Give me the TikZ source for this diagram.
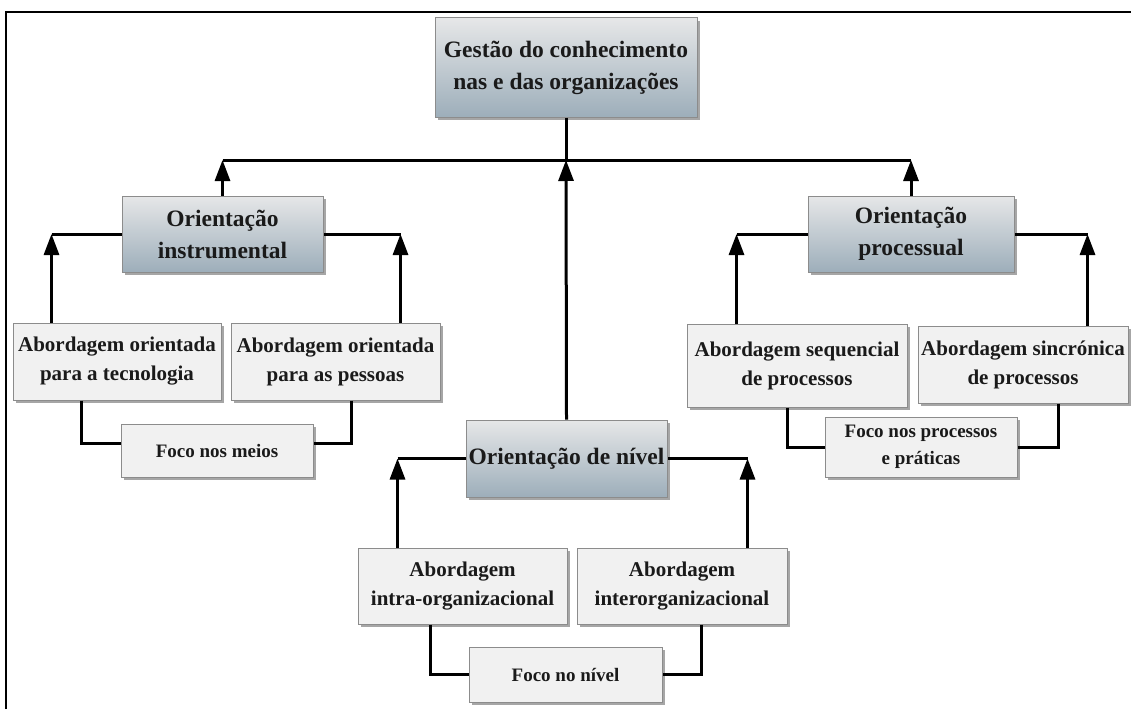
\documentclass[tikz,border=0pt]{standalone}
\usepackage{fontspec}
\setmainfont{Liberation Serif}
\usetikzlibrary{arrows.meta,shadows,calc}
\definecolor{gradtop}{HTML}{E6E7E8}
\definecolor{gradbot}{HTML}{9DAEBA}
\definecolor{lightbox}{HTML}{F1F1F1}
\definecolor{boxline}{HTML}{8C8C8C}
\definecolor{ink}{HTML}{1A1A1A}
\tikzset{
  boxbase/.style={draw=boxline, line width=1pt, align=center, inner sep=2pt,
    text=ink, font=\bfseries,
    drop shadow={shadow xshift=3pt, shadow yshift=-3pt, fill=black, opacity=0.35}},
  mainbox/.style={boxbase, top color=gradtop, bottom color=gradbot,
    font=\fontsize{23.5}{32}\selectfont\bfseries},
  subbox/.style={boxbase, fill=lightbox, font=\fontsize{21}{29}\selectfont\bfseries},
  focobox/.style={boxbase, fill=lightbox, font=\fontsize{19}{27}\selectfont\bfseries},
  link/.style={line width=3pt, black},
  uparrow/.style={link, -{Triangle[width=15pt,length=21pt]}}
}
\begin{document}
\begin{tikzpicture}[x=1pt,y=-1pt]
\useasboundingbox (0,0) rectangle (1131,709);
% partial frame
\draw[line width=2pt] (6,709) -- (6,12) -- (1131,12);

% top node
\node[mainbox, minimum width=262, minimum height=99] (top) at (566,67.5)
  {Gestão do conhecimento\\nas e das organizações};

% orientations
\node[mainbox, minimum width=201, minimum height=76] (oi) at (222.5,234) {Orientação\\instrumental};
\node[mainbox, minimum width=206, minimum height=76] (op) at (911,234) {Orientação\\processual};
\node[mainbox, minimum width=201, minimum height=77] (on) at (566.5,458.5) {Orientação de nível};

% approaches
\node[subbox, minimum width=208, minimum height=77] (a1) at (117,361.5) {Abordagem orientada\\para a tecnologia};
\node[subbox, minimum width=209, minimum height=77] (a2) at (335.5,361.5) {Abordagem orientada\\para as pessoas};
\node[subbox, minimum width=220, minimum height=83] (p1) at (797,365.5) {Abordagem sequencial\\de processos};
\node[subbox, minimum width=210, minimum height=77] (p2) at (1023,364.5) {Abordagem sincrónica\\de processos};
\node[subbox, minimum width=209, minimum height=76] (n1) at (462.5,586) {Abordagem\\intra-organizacional};
\node[subbox, minimum width=210, minimum height=76] (n2) at (682,586) {Abordagem\\interorganizacional};

% focus boxes
\node[focobox, minimum width=192, minimum height=53] (f1) at (217,450.5) {Foco nos meios};
\node[focobox, minimum width=192, minimum height=60] (f2) at (921,447) {Foco nos processos\\e práticas};
\node[focobox, minimum width=193, minimum height=55] (f3) at (565.5,674.5) {Foco no nível};

% top bar
\coordinate (hub) at (566,160);
\coordinate (barl) at (222.5,160);
\coordinate (barr) at (911,160);
\draw[link] (top.south) -- (hub);
\draw[link] (barl) -- (barr);
\draw[uparrow] (oi.north) -- (barl);
\draw[uparrow] (on.north) -- (hub);
\draw[uparrow] (op.north) -- (barr);

% instrumental branch
\coordinate (oil) at ([xshift=39pt]a1.north west |- oi.west);
\coordinate (oir) at ([xshift=-40pt]a2.north east |- oi.east);
\draw[uparrow] ([xshift=39pt]a1.north west) -- (oil);
\draw[uparrow] ([xshift=-40pt]a2.north east) -- (oir);
\draw[link] (oil) -- (oi.west);
\draw[link] (oir) -- (oi.east);
\draw[link] ([xshift=69pt]a1.south west) |- ([yshift=7pt]f1.west);
\draw[link] ([xshift=-89pt]a2.south east) |- ([yshift=7pt]f1.east);

% processual branch
\coordinate (opl) at ([xshift=50pt]p1.north west |- op.west);
\coordinate (opr) at ([xshift=-41pt]p2.north east |- op.east);
\draw[uparrow] ([xshift=50pt]p1.north west) -- (opl);
\draw[uparrow] ([xshift=-41pt]p2.north east) -- (opr);
\draw[link] (opl) -- (op.west);
\draw[link] (opr) -- (op.east);
\draw[link] ([xshift=-10pt]p1.south) |- (f2.west);
\draw[link] ([xshift=-70pt]p2.south east) |- (f2.east);

% level branch
\coordinate (onl) at ([xshift=40pt]n1.north west |- on.west);
\coordinate (onr) at ([xshift=-40pt]n2.north east |- on.east);
\draw[uparrow] ([xshift=40pt]n1.north west) -- (onl);
\draw[uparrow] ([xshift=-40pt]n2.north east) -- (onr);
\draw[link] (onl) -- (on.west);
\draw[link] (onr) -- (on.east);
\draw[link] ([xshift=73pt]n1.south west) |- (f3.west);
\draw[link] ([xshift=-86pt]n2.south east) |- (f3.east);
\end{tikzpicture}
\end{document}
